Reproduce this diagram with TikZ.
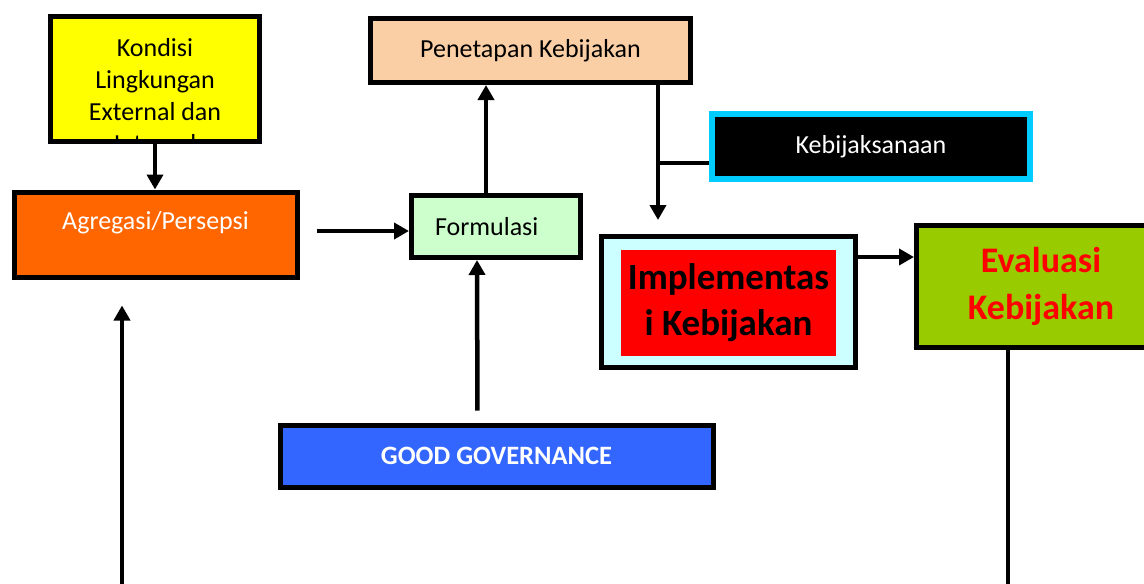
\documentclass[tikz,border=0pt]{standalone}
\usepackage{fontspec}
\setmainfont{Carlito}
\usetikzlibrary{arrows.meta,positioning}
\definecolor{kondyellow}{HTML}{FFFF00}
\definecolor{agorange}{HTML}{FF6600}
\definecolor{formgreen}{HTML}{CCFFCC}
\definecolor{penpeach}{HTML}{FACFA5}
\definecolor{kebcyan}{HTML}{00CCFF}
\definecolor{implcyan}{HTML}{CCFFFF}
\definecolor{evalgreen}{HTML}{99CC00}
\definecolor{govblue}{HTML}{3366FF}
\tikzset{box/.style={rectangle, draw, line width=5pt, inner sep=0pt, text centered},
  arr/.style={line width=4.5pt, -{Triangle[width=16pt,length=15pt]}},
  link/.style={line width=4.5pt}}

\begin{document}
\begin{tikzpicture}[x=1pt,y=-1pt,font=\fontsize{26}{32}\selectfont]
    \useasboundingbox (0,0) rectangle (1144,584);
    \clip (0,0) rectangle (1144,584);

    \node [box, fill=kondyellow, minimum width=209pt, minimum height=125pt,
      path picture={\node[anchor=north, align=center, inner sep=0pt]
        at ([yshift=-14pt]path picture bounding box.north)
        {Kondisi\\Lingkungan\\External dan\\Internal};}] (kondisi) at (155,79) {};
    \node [box, fill=agorange, text=white, minimum width=283pt, minimum height=85pt,
      text height=20pt, text depth=31pt] (agregasi) at (155.5,234.5) {Agregasi/Persepsi};
    \node [box, fill=formgreen, minimum width=169pt, minimum height=62pt,
      text width=122pt, align=left] (formulasi) at (496,226.5) {Formulasi};
    \node [box, fill=penpeach, minimum width=320pt, minimum height=64pt] (penetapan) at (530.5,50.5) {Penetapan Kebijakan};
    \node [box, draw=kebcyan, line width=5.5pt, fill=black, text=white,
      minimum width=318pt, minimum height=65pt] (kebijaksanaan) at (871,146.5) {Kebijaksanaan};
    \node [box, fill=implcyan, minimum width=254pt, minimum height=131pt] (impl) at (728.5,302) {};
    \node [box, draw=none, fill=red, minimum width=215pt, minimum height=106pt, align=center,
      font=\fontsize{37}{46}\selectfont\bfseries] (implred) at (728.5,303) {Implementas\\i Kebijakan};
    \node [box, fill=evalgreen, text=red, minimum width=249pt, minimum height=122pt, align=center,
      font=\fontsize{36}{47}\selectfont\bfseries] (evaluasi) at (1041,286.5) {Evaluasi\\Kebijakan};
    \node [box, fill=govblue, text=white, minimum width=433pt, minimum height=62pt,
      font=\fontsize{26.5}{30}\selectfont\bfseries] (good) at (496.5,456) {GOOD GOVERNANCE};

    \coordinate (feed) at (122,590);
    \coordinate (evalout) at (1008,590);

    \draw[arr] (kondisi.south) -- (kondisi.south |- agregasi.north);
    \draw[arr] ([xshift=17pt,yshift=-4.5pt]agregasi.east |- formulasi.west) -- ([yshift=-4.5pt]formulasi.west);
    \draw[arr] ([xshift=-10pt]formulasi.north) -- ([xshift=-10pt]formulasi.north |- penetapan.south);
    \draw[arr, shorten <=12pt] ([xshift=-19pt]good.north) -- ([xshift=-19pt]formulasi.south);
    \draw[arr, shorten >=14pt] ([xshift=127.5pt]penetapan.south) -- ([xshift=127.5pt]penetapan.south |- impl.north);
    \draw[link] ([yshift=-16.5pt]kebijaksanaan.west) -- ([yshift=-16.5pt,xshift=127.5pt]kebijaksanaan.west -| penetapan.south);
    \draw[arr] ([yshift=-23pt]impl.north east) -- ([yshift=-23pt]impl.north east -| evaluasi.west);
    \draw[arr, shorten >=26pt] (feed) -- (feed |- agregasi.south);
    \draw[link] (evalout |- evaluasi.south) -- (evalout);
\end{tikzpicture}
\end{document}
